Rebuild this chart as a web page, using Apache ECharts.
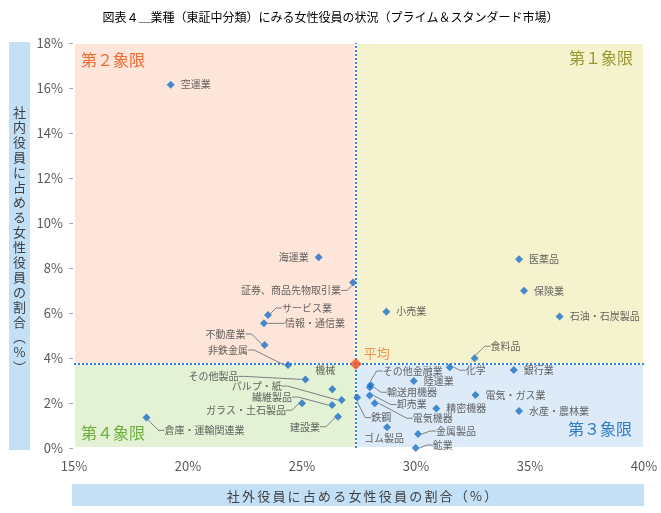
<!DOCTYPE html>
<html><head><meta charset="utf-8">
<script src="https://cdn.jsdelivr.net/npm/echarts@6/dist/echarts.min.js"></script>
<style>html,body{margin:0;padding:0;background:#fff}#c{width:661px;height:513px}</style>
</head><body><div id="c"></div>
<script>
// ---- data ----
const industries = ['空運業','海運業','証券、商品先物取引業','サービス業','情報・通信業','不動産業','非鉄金属',
  'その他製品','機械','パルプ・紙','繊維製品','ガラス・土石製品','建設業','倉庫・運輸関連業',
  '鉄鋼','その他金融業','輸送用機器','卸売業','電気機器','陸運業','化学','食料品','銀行業','電気・ガス業',
  '精密機器','水産・農林業','ゴム製品','金属製品','鉱業','医薬品','保険業','小売業','石油・石炭製品'];
const outsideRatio = [19.24,25.73,27.24,23.51,23.33,23.36,24.39,
  25.15,26.33,26.74,26.32,25.00,26.58,18.18,
  27.42,28.01,27.98,27.97,28.19,29.90,31.48,32.57,34.29,32.61,
  30.89,34.52,28.73,30.09,29.99,34.52,34.74,28.70,36.30];
const insideRatio = [16.15,8.48,7.36,5.91,5.54,4.58,3.69,
  3.05,2.61,2.13,1.91,1.99,1.39,1.36,
  2.24,2.80,2.70,2.33,1.99,2.98,3.59,3.99,3.47,2.36,
  1.76,1.64,0.92,0.62,0.00,8.39,6.99,6.06,5.84];
const averageOutside = 27.36;
const averageInside = 3.73;
const xTickValues = [15,20,25,30,35,40];
const yTickValues = [0,2,4,6,8,10,12,14,16,18];
const quadrantNames = ['第１象限','第２象限','第３象限','第４象限'];
const titleText = '図表４＿業種（東証中分類）にみる女性役員の状況（プライム＆スタンダード市場）';
const xAxisTitle = '社外役員に占める女性役員の割合（%）';
const yAxisTitle = ['社','内','役','員','に','占','め','る','女','性','役','員','の','割','合','︵','%','︶'];

// ---- label placement (style, px relative to the point) ----
const labelOffsets = {
  '証券、商品先物取引業':[-12,8,'right',true],
  'サービス業':[14,-7,'left',true],
  '情報・通信業':[21,0,'left',true],
  '不動産業':[-19,-11,'right',true],
  '非鉄金属':[-40,-15,'right',true],
  'その他製品':[-67,-3,'right',true],
  '機械':[-7,-19,'center',false],
  'パルプ・紙':[-60,-14,'right',true],
  '繊維製品':[-40,-8,'right',true],
  'ガラス・土石製品':[-16,7,'right',true],
  '建設業':[-18,10,'right',true],
  '倉庫・運輸関連業':[18,13,'left',true],
  '食料品':[16,-12,'left',true],
  '化学':[16,3,'left',true],
  'その他金融業':[12,-14,'left',true],
  '輸送用機器':[17,5,'left',true],
  '卸売業':[27,9,'left',true],
  '電気機器':[38,15,'left',true],
  '鉄鋼':[14,20,'left',true],
  'ゴム製品':[-3,11,'center',false],
  '金属製品':[18,-3,'left',true],
  '鉱業':[17,-3,'left',true]
};
const leftLabels = ['海運業'];

const FONT = '"Noto Sans CJK JP", "Noto Sans", sans-serif';
const chart = echarts.init(document.getElementById('c'));

const points = industries.map((n,i)=>{
  const o = labelOffsets[n];
  return {
    name: n,
    value: [outsideRatio[i], insideRatio[i]],
    label: { position: leftLabels.includes(n) ? 'left' : 'right' },
    labelLine: { show: !!(o && o[3]) }
  };
});

// per-character x title
const cvs = document.createElement('canvas').getContext('2d');
cvs.font = '13px ' + FONT;
const spacing = 2.2;
const chars = xAxisTitle.split('');
const widths = chars.map(c=>cvs.measureText(c).width);
const total = widths.reduce((a,b)=>a+b,0) + spacing*(chars.length-1);
let cx = 362 - total/2;
const xTitleChildren = chars.map((c,i)=>{
  const t = {type:'text', x:cx, y:496, style:{text:c, fill:'#404040', font:'13px '+FONT, textVerticalAlign:'middle'}};
  cx += widths[i] + spacing;
  return t;
});

chart.setOption({
  animation:false,
  title:{text:titleText,left:'center',top:6,textStyle:{fontSize:12,fontWeight:'normal',color:'#000',fontFamily:FONT}},
  grid:{left:74,right:17,top:43,bottom:65,show:true,borderColor:'#BFBFBF',borderWidth:1},
  xAxis:{type:'value',min:xTickValues[0],max:xTickValues[xTickValues.length-1],interval:5,
    axisLine:{show:true,lineStyle:{color:'#A6A6A6'}},
    axisTick:{show:true,inside:true,length:5,lineStyle:{color:'#A6A6A6'}},
    splitLine:{show:false},
    axisLabel:{formatter:'{value}%',color:'#595959',fontSize:13,margin:12,fontFamily:FONT}},
  yAxis:{type:'value',min:yTickValues[0],max:yTickValues[yTickValues.length-1],interval:2,
    axisLine:{show:true,lineStyle:{color:'#A6A6A6'}},
    axisTick:{show:true,length:5,lineStyle:{color:'#A6A6A6'}},
    splitLine:{show:false},
    axisLabel:{formatter:'{value}%',color:'#595959',fontSize:13,margin:11,fontFamily:FONT}},
  graphic:[
    {type:'rect',shape:{x:9,y:42,width:21,height:408},style:{fill:'#C3E0F7'},z:-1},
    {type:'text',x:19.5,y:240,style:{text:yAxisTitle.join('\n'),fill:'#404040',font:'13px '+FONT,lineHeight:15,textAlign:'center',textVerticalAlign:'middle'}},
    {type:'rect',shape:{x:72,y:484,width:572,height:22},style:{fill:'#C3E0F7'},z:-1},
    {type:'group',children:xTitleChildren},
    {type:'text',x:81,y:60,z:10,style:{text:quadrantNames[1],fill:'#F26B35',font:'16px '+FONT,textVerticalAlign:'middle'}},
    {type:'text',x:633,y:58,z:10,style:{text:quadrantNames[0],fill:'#9A9830',font:'16px '+FONT,textAlign:'right',textVerticalAlign:'middle'}},
    {type:'text',x:632,y:429,z:10,style:{text:quadrantNames[2],fill:'#2E7CC8',font:'16px '+FONT,textAlign:'right',textVerticalAlign:'middle'}},
    {type:'text',x:81,y:433,z:10,style:{text:quadrantNames[3],fill:'#6EAE3E',font:'16px '+FONT,textVerticalAlign:'middle'}}
  ],
  series:[
    {
      type:'scatter',
      symbol:'none',
      data:[[averageOutside,averageInside]],
      silent:true,
      z:1,
      markArea:{silent:true,itemStyle:{borderColor:'#fff',borderWidth:2},
        data:[
          [{xAxis:averageOutside,yAxis:averageInside,itemStyle:{color:'#F5F2CE'}},{xAxis:40,yAxis:18}],
          [{xAxis:15,yAxis:averageInside,itemStyle:{color:'#FDE5D9'}},{xAxis:averageOutside,yAxis:18}],
          [{xAxis:averageOutside,yAxis:0,itemStyle:{color:'#DDEBF8'}},{xAxis:40,yAxis:averageInside}],
          [{xAxis:15,yAxis:0,itemStyle:{color:'#E3F1D4'}},{xAxis:averageOutside,yAxis:averageInside}]
        ]},
      markLine:{silent:true,symbol:'none',label:{show:false},
        lineStyle:{color:'#2E86DE',type:'dotted',width:2},
        data:[{xAxis:averageOutside},{yAxis:averageInside}]}
    },
    {
      type:'scatter',
      symbol:'diamond',
      symbolSize:8,
      clip:false,
      z:5,
      itemStyle:{color:'#1A6FC4'},
      label:{show:true,formatter:'{b}',fontSize:10,color:'#404040',distance:6,fontFamily:FONT},
      labelLine:{show:false,length2:6,lineStyle:{color:'#808080',width:1}},
      labelLayout:function(p){
        const o = labelOffsets[industries[p.dataIndex]];
        if(!o) return {};
        const px = p.rect.x + p.rect.width/2, py = p.rect.y + p.rect.height/2;
        return {x:px+o[0], y:py+o[1], align:o[2], verticalAlign:'middle'};
      },
      data:points
    },
    {
      type:'scatter',
      symbol:'diamond',
      symbolSize:12,
      z:6,
      itemStyle:{color:'#F4511E'},
      label:{show:true,formatter:'平均',position:'right',offset:[0,-11],fontSize:13,color:'#F07A2A',fontFamily:FONT,distance:2},
      data:[{name:'平均',value:[averageOutside,averageInside]}]
    }
  ]
});
</script></body></html>
